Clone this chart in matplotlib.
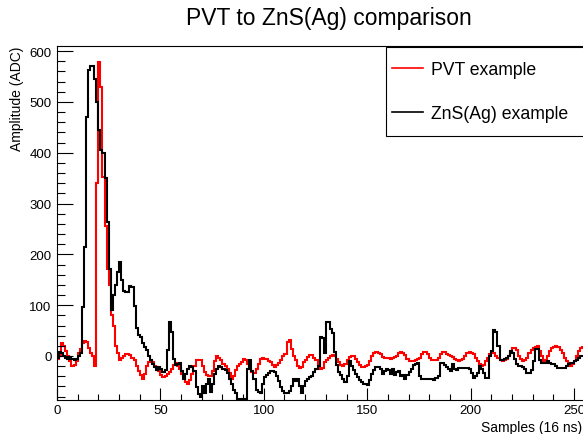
import numpy as np
import matplotlib.pyplot as plt
from matplotlib.lines import Line2D
from matplotlib.patches import Rectangle

plt.rcParams['font.family'] = ['Liberation Sans', 'DejaVu Sans']

# samples (16 ns each), 256 bins
n_samples = 256

# PVT example waveform (ADC)
pvt = [
    -5, 0, 26, 20, 10, 0, -10, -20, -18, -10,
    5, 13, 26, 29, 28, 15, 5, 0, -20, 340,
    578, 530, 352, 256, 171, 140, 80, 59, 20, 5,
    -7, -3, 0, 3, 3, 2, -3, -7, -19, -30,
    -38, -45, -35, -20, -12, -10, -12, -19, -22, -30,
    -38, -42, -40, -36, -32, -25, -18, -13, -20, -26,
    -35, -40, -52, -55, -48, -35, -20, -7, -7, -8,
    -20, -32, -38, -39, -39, -30, -10, 0, -3, -8,
    -15, -20, -26, -33, -45, -40, -28, -20, -15, -12,
    -6, -7, -15, -25, -32, -33, -25, -15, -5, -3,
    -5, -6, -10, -12, -18, -22, -18, -13, -8, 0,
    4, 28, 32, 14, 0, -7, -20, -24, -22, -12,
    -8, -2, 1, 1, -3, -8, -15, -26, -24, -12,
    -8, -4, 0, 2, 0, -5, -12, -18, -19, -15,
    -8, -2, 0, 0, -5, -12, -18, -22, -22, -20,
    -17, -10, 0, 5, 8, 6, 3, -2, -3, -3,
    -4, -6, -3, -2, 0, 5, 8, 6, 2, -5,
    -9, -9, -9, -7, -6, -3, 3, 7, 7, 3,
    -3, -7, -7, -7, -3, 3, 7, 7, 4, 2,
    0, -2, -5, -7, -10, -8, -5, 0, 5, 7,
    6, 3, -3, -10, -16, -20, -18, -10, -3, 3,
    7, 5, 0, -4, -7, -10, -8, -5, 0, 8,
    16, 16, 12, 0, -5, -10, -8, -3, 5, 12,
    16, 18, 20, 10, 0, -10, -7, 0, 10, 16,
    18, 20, 18, 12, 5, -3, -10, -16, -20, -16,
    -10, 0, 10, 16, 18, 16,
]

# ZnS(Ag) example waveform (ADC)
zns = [
    -3, 7, 5, 0, -3, -5, -2, -5, -7, -5,
    0, 5, 96, 215, 470, 562, 570, 570, 545, 500,
    445, 405, 400, 350, 264, 171, 90, 120, 140, 165,
    185, 150, 128, 126, 126, 138, 135, 98, 55, 42,
    38, 25, 18, 12, 0, -8, -15, -22, -28, -22,
    -25, -32, -28, 12, 66, 48, -5, -18, -15, -14,
    -30, -46, -35, -25, -20, -22, -30, -62, -75, -80,
    -60, -72, -55, -46, -70, -55, -35, -26, -20, -22,
    -26, -28, -33, -46, -55, -66, -72, -85, -85, -85,
    -85, -85, -26, -7, -30, -46, -66, -70, -72, -55,
    -42, -38, -33, -30, -29, -32, -40, -50, -62, -68,
    -72, -72, -68, -60, -45, -50, -45, -60, -72, -60,
    -50, -45, -42, -39, -32, -25, -19, 37, 35, 5,
    66, 66, 53, 45, 7, -18, -32, -38, -45, -52,
    -40, -9, -20, -28, -35, -42, -48, -52, -55, -56,
    -58, -48, -35, -28, -22, -22, -25, -35, -30, -26,
    -28, -35, -26, -38, -32, -30, -40, -38, -45, -38,
    -32, -25, -18, -15, -13, -40, -45, -46, -46, -45,
    -46, -46, -47, -44, -40, -13, -13, -18, -22, -26,
    -30, -15, -25, -27, -23, -23, -23, -23, -23, -25,
    -33, -43, -40, -33, -20, -25, -33, -43, -43, 0,
    10, 52, 48, 20, -7, -7, -5, -3, 0, 10,
    5, -5, -15, -20, -20, -22, -25, -33, -33, -28,
    -10, 13, 13, -7, -13, -13, -13, -10, -13, -16,
    -16, -20, -23, -23, -23, -23, -20, -16, -13, -13,
    -10, -7, -3, 0, 0, 0,
]

edges = np.arange(n_samples + 1)

W, H = 583, 435
fig = plt.figure(figsize=(W / 100, H / 100), dpi=100)
ax_left, ax_right, ax_top, ax_bottom = 57, 586.4, 47, 401
ax = fig.add_axes([ax_left / W, 1 - ax_bottom / H,
                   (ax_right - ax_left) / W, (ax_bottom - ax_top) / H])

ax.stairs(pvt, edges, color='#ff0000', linewidth=1.5, baseline=None)
ax.stairs(zns, edges, color='black', linewidth=1.5, baseline=None)

ax.set_xlim(0, n_samples)
ax.set_ylim(-86.6, 610)
ax.set_xticks(np.arange(0, 251, 50))
ax.set_xticks(np.arange(0, 256, 10), minor=True)
ax.set_yticks(np.arange(0, 601, 100))
ax.set_yticks(np.arange(-80, 611, 20), minor=True)
ax.tick_params(axis='both', which='both', direction='in', top=False, right=False,
               width=0.8, labelsize=9.5)
ax.tick_params(axis='y', which='major', length=11.5, pad=4)
ax.tick_params(axis='y', which='minor', length=5.8)
ax.tick_params(axis='x', which='major', length=8.6, pad=3)
ax.tick_params(axis='x', which='minor', length=4.3)
for sp in ax.spines.values():
    sp.set_linewidth(0.8)

ax.set_xlabel('Samples (16 ns)', fontsize=10, loc='right')
ax.xaxis.set_label_coords(0.991, -0.0565)
ax.set_ylabel('Amplitude (ADC)', fontsize=10, loc='top')
ax.yaxis.set_label_coords(-0.062, 1.0)

fig.text(329 / W, 1 - 18 / H, 'PVT to ZnS(Ag) comparison', fontsize=16.5,
         ha='center', va='center')

# legend box (runs off the right edge like the original canvas)
fig.patches.append(Rectangle((386 / W, 1 - 137 / H), 220 / W, 89 / H,
                             transform=fig.transFigure, facecolor='white',
                             edgecolor='black', linewidth=0.8, zorder=5))
handles = [Line2D([], [], color='#ff0000', lw=1.2),
           Line2D([], [], color='black', lw=1.2)]
fig.legend(handles, ['PVT example', 'ZnS(Ag) example'], loc='upper left',
           bbox_to_anchor=(392 / W, 1 - 62 / H), bbox_transform=fig.transFigure,
           frameon=False, fontsize=12.7, borderpad=0, borderaxespad=0,
           handlelength=1.75, handletextpad=0.45, labelspacing=1.55)

fig.savefig('out.png', dpi=100)
